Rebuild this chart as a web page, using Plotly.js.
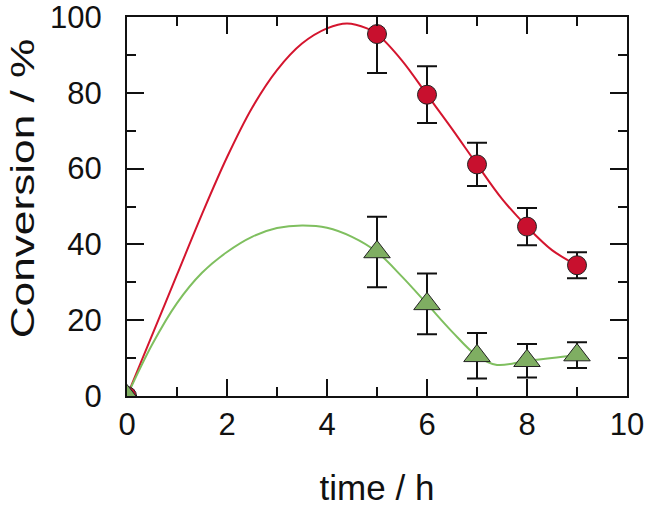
<!DOCTYPE html>
<html>
<head>
<meta charset="utf-8">
<script src="https://cdn.plot.ly/plotly-3.0.1.min.js"></script>
<style>
  html, body { margin: 0; padding: 0; background: #ffffff; }
  #chart { width: 646px; height: 507px; }
</style>
</head>
<body>
<div id="chart"></div>
<script>
// Measured conversion (with error) at each sampling time
const timeH = [0, 5, 6, 7, 8, 9];
const convRed = [0, 95.5, 79.5, 61.1, 44.7, 34.5];
const errRed = [null, 10.3, 7.5, 5.7, 4.9, 3.4];
const convGreen = [0, 38, 24.3, 10.6, 9.3, 10.8];
const errGreen = [null, 9.3, 8, 6, 4.4, 3.4];

// Smooth guide curves through the data
const curveRedX = [0, 0.5, 1, 1.5, 2, 2.5, 3, 3.5, 4, 4.4, 4.8, 5, 5.5, 6, 6.5, 7, 7.5, 8, 8.5, 9];
const curveRedY = [0, 16, 32, 48, 63, 76, 86, 93, 97, 98.3, 97, 95.5, 88.5, 79.5, 70.5, 61.1, 52, 44.7, 38.5, 34.5];
const curveGreenX = [0, 0.5, 1, 1.5, 2, 2.5, 3, 3.5, 4, 4.5, 5, 5.5, 6, 6.5, 7, 7.4, 8, 8.5, 9];
const curveGreenY = [0, 13.5, 24.5, 32.5, 38, 42, 44.3, 45, 44.4, 42, 38, 31.5, 24.3, 17, 10.6, 8.2, 9.3, 10, 10.8];

const xTicks = [0, 2, 4, 6, 8, 10];
const yTicks = [0, 20, 40, 60, 80, 100];

const redLine = '#d4152e';
const redFill = '#c8102e';
const greenLine = '#7fbf5f';
const greenFill = '#7fae62';
const fontFamily = 'Liberation Sans, Arial, sans-serif';

const traces = [
  { x: curveRedX, y: curveRedY, mode: 'lines', line: { color: redLine, width: 2, shape: 'spline', smoothing: 1 }, hoverinfo: 'skip' },
  { x: curveGreenX, y: curveGreenY, mode: 'lines', line: { color: greenLine, width: 2, shape: 'spline', smoothing: 1 }, hoverinfo: 'skip' },
  {
    x: timeH, y: convRed, mode: 'markers',
    marker: { symbol: 'circle', size: 19, color: redFill, line: { color: '#222', width: 1 } },
    error_y: { type: 'data', array: errRed, visible: true, color: '#111', thickness: 2, width: 10 }
  },
  {
    x: timeH, y: convGreen, mode: 'markers',
    marker: { symbol: 'triangle-up', size: 23, color: greenFill, line: { color: '#222', width: 1 } },
    error_y: { type: 'data', array: errGreen, visible: true, color: '#111', thickness: 2, width: 10 }
  }
];

const axisCommon = {
  showgrid: false, zeroline: false,
  showline: true, linecolor: '#111', linewidth: 2, mirror: 'ticks',
  ticks: 'inside', ticklen: 17, tickwidth: 2, tickcolor: '#111',
  tickfont: { family: fontFamily, size: 31, color: '#111' }
};

const layout = {
  width: 646, height: 507,
  margin: { l: 127, r: 19, t: 17, b: 111 },
  paper_bgcolor: '#ffffff', plot_bgcolor: '#ffffff',
  showlegend: false,
  xaxis: Object.assign({}, axisCommon, {
    range: [0, 10], tickmode: 'array', tickvals: xTicks, ticktext: xTicks.map(String),
    ticklabelstandoff: 0,
    minor: { dtick: 1, ticks: 'inside', ticklen: 9, tickwidth: 2, tickcolor: '#111' },
    title: { text: 'time / h', font: { family: fontFamily, size: 35, color: '#111' }, standoff: 38 }
  }),
  yaxis: Object.assign({}, axisCommon, {
    range: [0, 100], tickmode: 'array', tickvals: yTicks, ticktext: yTicks.map(String),
    ticklabelstandoff: 17, ticklabeloverflow: 'allow',
    minor: { dtick: 10, ticks: 'inside', ticklen: 9, tickwidth: 2, tickcolor: '#111' },
    title: { text: 'Conversion / %', font: { family: fontFamily, size: 34, color: '#111' }, standoff: 8 }
  })
};

Plotly.newPlot('chart', traces, layout, { displayModeBar: false, staticPlot: true }).then(function (gd) {
  // The y-axis title is set in a wide face: stretch it along its baseline
  const t = gd.querySelector('.ytitle');
  if (!t) return;
  const x = parseFloat(t.getAttribute('x'));
  const y = parseFloat(t.getAttribute('y'));
  const along = 18;   // shift toward the top of the axis
  const across = 3;   // small nudge away from the page edge
  t.setAttribute('transform',
    'rotate(-90,' + x + ',' + y + ') translate(' + (x + along) + ',' + (y + across) + ') scale(1.3,1) translate(' + (-x) + ',' + (-y) + ')');
});
</script>
</body>
</html>
